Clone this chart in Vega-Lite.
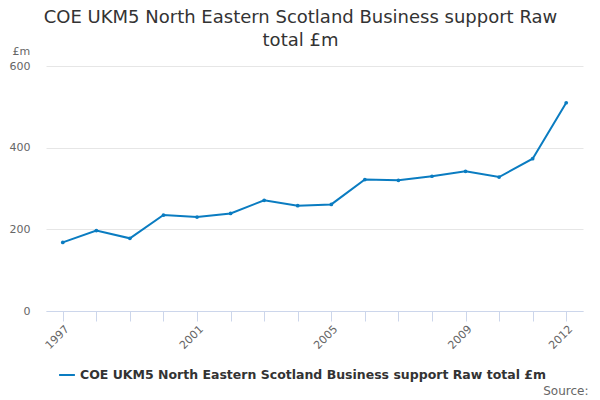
{
  "$schema": "https://vega.github.io/schema/vega-lite/v6.json",
  "width": 537,
  "height": 245,
  "autosize": "none",
  "padding": {"left": 46, "top": 66, "right": 17, "bottom": 89},
  "background": "white",
  "title": {
    "text": ["COE UKM5 North Eastern Scotland Business support Raw", "total £m"],
    "font": "DejaVu Sans",
    "fontSize": 18,
    "fontWeight": "normal",
    "color": "#333333",
    "anchor": "middle",
    "dx": -14,
    "offset": -5,
    "lineHeight": 23
  },
  "data": {
    "values": [
      {"year": "1997", "value": 168, "series": "COE UKM5 North Eastern Scotland Business support Raw total £m"},
      {"year": "1998", "value": 197, "series": "COE UKM5 North Eastern Scotland Business support Raw total £m"},
      {"year": "1999", "value": 178, "series": "COE UKM5 North Eastern Scotland Business support Raw total £m"},
      {"year": "2000", "value": 235, "series": "COE UKM5 North Eastern Scotland Business support Raw total £m"},
      {"year": "2001", "value": 230, "series": "COE UKM5 North Eastern Scotland Business support Raw total £m"},
      {"year": "2002", "value": 239, "series": "COE UKM5 North Eastern Scotland Business support Raw total £m"},
      {"year": "2003", "value": 271, "series": "COE UKM5 North Eastern Scotland Business support Raw total £m"},
      {"year": "2004", "value": 258, "series": "COE UKM5 North Eastern Scotland Business support Raw total £m"},
      {"year": "2005", "value": 261, "series": "COE UKM5 North Eastern Scotland Business support Raw total £m"},
      {"year": "2006", "value": 322, "series": "COE UKM5 North Eastern Scotland Business support Raw total £m"},
      {"year": "2007", "value": 320, "series": "COE UKM5 North Eastern Scotland Business support Raw total £m"},
      {"year": "2008", "value": 330, "series": "COE UKM5 North Eastern Scotland Business support Raw total £m"},
      {"year": "2009", "value": 342, "series": "COE UKM5 North Eastern Scotland Business support Raw total £m"},
      {"year": "2010", "value": 328, "series": "COE UKM5 North Eastern Scotland Business support Raw total £m"},
      {"year": "2011", "value": 373, "series": "COE UKM5 North Eastern Scotland Business support Raw total £m"},
      {"year": "2012", "value": 510, "series": "COE UKM5 North Eastern Scotland Business support Raw total £m"}
    ]
  },
  "mark": {"type": "line", "strokeWidth": 2, "point": {"size": 14, "filled": true}},
  "encoding": {
    "x": {
      "field": "year",
      "type": "ordinal",
      "scale": {"type": "point", "padding": 0.5},
      "axis": {
        "title": "Source:",
        "titleX": 542,
        "titleY": 79,
        "titleAlign": "right",
        "titleBaseline": "middle",
        "titleFont": "DejaVu Sans",
        "titleFontSize": 12,
        "titleFontWeight": "normal",
        "titleColor": "#666666",
        "labelAngle": -45,
        "labelAlign": "right",
        "labelBaseline": "top",
        "labelFont": "DejaVu Sans",
        "labelFontSize": 11,
        "labelColor": "#666666",
        "labelPadding": 2,
        "labelExpr": "indexof(['1997','2001','2005','2009','2012'], datum.value) >= 0 ? datum.value : ''",
        "domainColor": "#ccd6eb",
        "tickColor": "#ccd6eb",
        "tickSize": 10,
        "grid": false
      }
    },
    "y": {
      "field": "value",
      "type": "quantitative",
      "scale": {"domain": [0, 600]},
      "axis": {
        "title": "£m",
        "titleAngle": 0,
        "titleX": -34,
        "titleY": -15,
        "titleAlign": "left",
        "titleBaseline": "middle",
        "titleFont": "DejaVu Sans",
        "titleFontSize": 11,
        "titleFontWeight": "normal",
        "titleColor": "#666666",
        "values": [0, 200, 400, 600],
        "labelFont": "DejaVu Sans",
        "labelFontSize": 11,
        "labelColor": "#666666",
        "labelPadding": 16,
        "domain": false,
        "ticks": false,
        "gridColor": "#e6e6e6"
      }
    },
    "color": {
      "field": "series",
      "type": "nominal",
      "scale": {"range": ["#0a7cc1"]},
      "legend": {
        "title": null,
        "orient": "none",
        "legendX": 12,
        "legendY": 300,
        "symbolType": "stroke",
        "symbolStrokeWidth": 2,
        "symbolSize": 250,
        "labelFont": "DejaVu Sans",
        "labelFontSize": 12.5,
        "labelFontWeight": "bold",
        "labelColor": "#333333",
        "labelLimit": 600
      }
    }
  },
  "config": {"view": {"stroke": null}}
}
